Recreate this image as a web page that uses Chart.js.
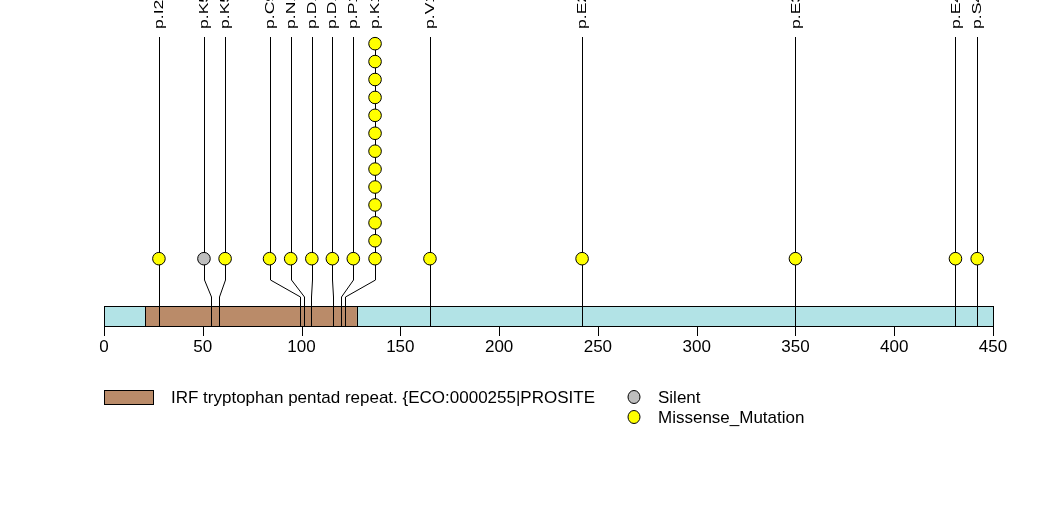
<!DOCTYPE html>
<html>
<head>
<meta charset="utf-8">
<script src="https://cdn.jsdelivr.net/npm/chart.js@4.4.1/dist/chart.umd.min.js"></script>
<style>
html,body{margin:0;padding:0;background:#ffffff;}
#wrap{width:1047px;height:524px;position:relative;}
</style>
</head>
<body>
<div id="wrap"><canvas id="c" width="1047" height="524"></canvas></div>
<script>
// ---- data ----
const proteinLength = 450;
const domainName = 'IRF tryptophan pentad repeat. {ECO:0000255|PROSITE';
const domainStart = 21;
const domainEnd = 128;
const mutationLabels = ['p.I28V','p.K54K','p.K58N','p.C99Y','p.N101S','p.D105N','p.D116N','p.P120L','p.K122R','p.V165M','p.E242K','p.E350K','p.E431K','p.S442L'];
const mutationPositions = [28,54,58,99,101,105,116,120,122,165,242,350,431,442];
const displayPositions = [27.8,50.6,61.3,83.8,94.5,105.2,115.6,126.2,137.2,165,242,350,431,442];
const mutationCounts = [1,1,1,1,1,1,1,1,13,1,1,1,1,1];
const mutationTypes = ['Missense_Mutation','Silent','Missense_Mutation','Missense_Mutation','Missense_Mutation','Missense_Mutation','Missense_Mutation','Missense_Mutation','Missense_Mutation','Missense_Mutation','Missense_Mutation','Missense_Mutation','Missense_Mutation','Missense_Mutation'];
const xTicks = [0,50,100,150,200,250,300,350,400,450];
const legendTypes = ['Silent','Missense_Mutation'];

// ---- styles ----
const typeColors = {'Silent':'#BEBEBE','Missense_Mutation':'#FFFF00'};
const barColor = '#B2E3E6';
const domainColor = '#BA8B69';
const FONT = '"Liberation Sans", Arial, Helvetica, sans-serif';

function pointsFor(type){
  const pts = [];
  for(let i=0;i<mutationPositions.length;i++){
    if(mutationTypes[i]!==type) continue;
    for(let k=1;k<=mutationCounts[i];k++) pts.push({x:displayPositions[i], y:k});
  }
  return pts;
}

const lollipopPlugin = {
  id:'lollipop',
  beforeDatasetsDraw(chart){
    const ctx = chart.ctx, xs = chart.scales.x, ys = chart.scales.y;
    const barTop = 306, barBot = 326;
    ctx.save();
    // protein bar
    const x0 = xs.getPixelForValue(0), x1 = xs.getPixelForValue(proteinLength);
    ctx.fillStyle = barColor;
    ctx.fillRect(x0, barTop, x1-x0, barBot-barTop);
    const d0 = xs.getPixelForValue(domainStart), d1 = xs.getPixelForValue(domainEnd);
    ctx.fillStyle = domainColor;
    ctx.fillRect(d0, barTop, d1-d0, barBot-barTop);
    ctx.strokeStyle = '#000'; ctx.lineWidth = 1;
    ctx.strokeRect(Math.round(x0)+0.5, barTop+0.5, Math.round(x1-x0), barBot-barTop);
    ctx.beginPath();
    ctx.moveTo(Math.round(d0)+0.5, barTop); ctx.lineTo(Math.round(d0)+0.5, barBot);
    ctx.moveTo(Math.round(d1)+0.5, barTop); ctx.lineTo(Math.round(d1)+0.5, barBot);
    ctx.stroke();
    // axis ticks
    ctx.beginPath();
    xTicks.forEach(t=>{
      const px = Math.round(xs.getPixelForValue(t))+0.5;
      ctx.moveTo(px, barBot); ctx.lineTo(px, barBot+10);
    });
    ctx.stroke();
    ctx.fillStyle = '#000';
    ctx.font = '17px ' + FONT;
    ctx.textAlign = 'center'; ctx.textBaseline = 'middle';
    xTicks.forEach(t=>{
      ctx.fillText(String(t), xs.getPixelForValue(t), 347);
    });
    // stems
    ctx.beginPath();
    for(let i=0;i<mutationPositions.length;i++){
      const dx = Math.round(xs.getPixelForValue(displayPositions[i]))+0.5;
      const ax = Math.round(xs.getPixelForValue(mutationPositions[i]))+0.5;
      const y1 = ys.getPixelForValue(1);
      ctx.moveTo(dx, 37);
      ctx.lineTo(dx, y1);
      ctx.lineTo(dx, 280);
      ctx.lineTo(ax, 297);
      ctx.lineTo(ax, barBot);
    }
    ctx.stroke();
    // labels
    ctx.font = '13px ' + FONT;
    ctx.textAlign = 'left'; ctx.textBaseline = 'middle';
    for(let i=0;i<mutationPositions.length;i++){
      const dx = xs.getPixelForValue(displayPositions[i]);
      ctx.save();
      ctx.translate(dx+0.5, 29);
      ctx.rotate(-Math.PI/2);
      ctx.scale(1.35,1);
      ctx.fillText(mutationLabels[i], 0, 0);
      ctx.restore();
    }
    ctx.restore();
  },
  afterDraw(chart){
    const ctx = chart.ctx;
    ctx.save();
    ctx.fillStyle = domainColor;
    ctx.fillRect(104, 390, 49, 14);
    ctx.strokeStyle = '#000'; ctx.lineWidth = 1;
    ctx.strokeRect(104.5, 390.5, 49, 14);
    ctx.fillStyle = '#000';
    ctx.font = '17px ' + FONT;
    ctx.textAlign = 'left'; ctx.textBaseline = 'middle';
    ctx.fillText(domainName, 171, 398);
    legendTypes.forEach((t,j)=>{
      const cy = 397 + j*20;
      ctx.beginPath();
      ctx.ellipse(634, cy, 6, 6.5, 0, 0, Math.PI*2);
      ctx.fillStyle = typeColors[t]; ctx.fill();
      ctx.stroke();
      ctx.fillStyle = '#000';
      ctx.fillText(t, 658, cy+1);
    });
    ctx.restore();
  }
};

new Chart(document.getElementById('c'), {
  type:'scatter',
  data:{
    datasets: legendTypes.map(t=>({
      label:t,
      data:pointsFor(t),
      pointRadius:6.3,
      pointHoverRadius:6.3,
      pointBackgroundColor:typeColors[t],
      pointBorderColor:'#000',
      pointBorderWidth:1,
      showLine:false
    }))
  },
  options:{
    responsive:false,
    animation:false,
    events:[],
    layout:{padding:{left:104,right:54,top:0,bottom:0}},
    plugins:{legend:{display:false},tooltip:{enabled:false}},
    scales:{
      x:{type:'linear',min:0,max:proteinLength,display:false},
      y:{type:'linear',min:-13.4,max:15.03,display:false}
    }
  },
  plugins:[lollipopPlugin]
});
</script>
</body>
</html>
